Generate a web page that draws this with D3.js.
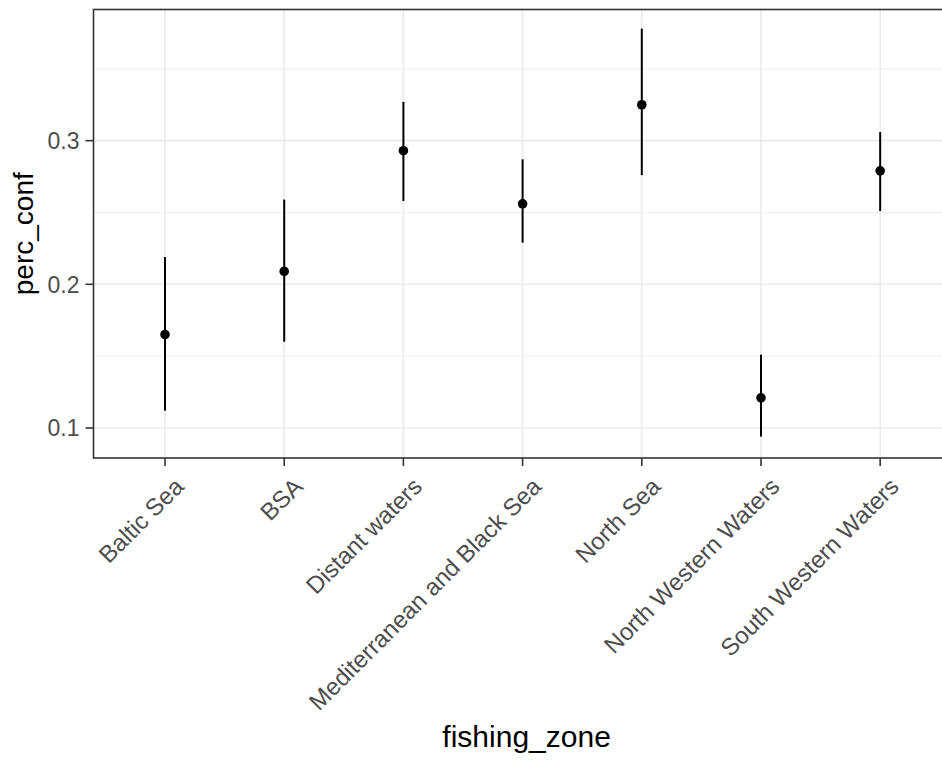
<!DOCTYPE html>
<html>
<head>
<meta charset="utf-8">
<script src="https://cdn.jsdelivr.net/npm/d3@7"></script>
<style>
  body { margin: 0; background: #fff; }
  svg { display: block; font-family: "Liberation Sans", Arial, sans-serif; }
</style>
</head>
<body>
<svg id="chart" width="942" height="760"></svg>
<script>
// fishing zones and the estimated share with its interval
const zones = ['Baltic Sea', 'BSA', 'Distant waters', 'Mediterranean and Black Sea',
  'North Sea', 'North Western Waters', 'South Western Waters'];
const perc_conf = [0.165, 0.209, 0.293, 0.256, 0.325, 0.121, 0.279];
const conf_low = [0.112, 0.160, 0.258, 0.229, 0.276, 0.094, 0.251];
const conf_high = [0.219, 0.259, 0.327, 0.287, 0.378, 0.151, 0.306];
const y_ticks = [0.1, 0.2, 0.3];
const y_minor = [0.15, 0.25, 0.35];

const svg = d3.select('#chart');
const p_left = 93.5, p_right = 951.7, p_top = 9.5, p_bottom = 458;

// discrete x scale, ggplot style padding of 0.6 step on each side
const xScale = d3.scalePoint().domain(zones).range([p_left, p_right]).padding(0.6);
const yScale = d3.scaleLinear().domain([0.0791, 0.3913]).range([p_bottom, p_top]);

// GRID
const grid = svg.append('g');
grid.selectAll('line.minor').data(y_minor).enter().append('line')
  .attr('x1', p_left).attr('x2', p_right)
  .attr('y1', d => yScale(d)).attr('y2', d => yScale(d))
  .attr('stroke', '#ebebeb').attr('stroke-width', 0.8);
grid.selectAll('line.majory').data(y_ticks).enter().append('line')
  .attr('x1', p_left).attr('x2', p_right)
  .attr('y1', d => yScale(d)).attr('y2', d => yScale(d))
  .attr('stroke', '#ebebeb').attr('stroke-width', 1.6);
grid.selectAll('line.majorx').data(zones).enter().append('line')
  .attr('y1', p_top).attr('y2', p_bottom)
  .attr('x1', d => xScale(d)).attr('x2', d => xScale(d))
  .attr('stroke', '#ebebeb').attr('stroke-width', 1.6);

// ERROR BARS AND POINTS
const marks = svg.append('g');
marks.selectAll('line.err').data(zones).enter().append('line')
  .attr('x1', d => xScale(d)).attr('x2', d => xScale(d))
  .attr('y1', (d, i) => yScale(conf_low[i]))
  .attr('y2', (d, i) => yScale(conf_high[i]))
  .attr('stroke', '#000').attr('stroke-width', 2);
marks.selectAll('circle').data(zones).enter().append('circle')
  .attr('cx', d => xScale(d))
  .attr('cy', (d, i) => yScale(perc_conf[i]))
  .attr('r', 4.8).attr('fill', '#000');

// PANEL BORDER
svg.append('rect').attr('x', p_left).attr('y', p_top)
  .attr('width', p_right - p_left).attr('height', p_bottom - p_top)
  .attr('fill', 'none').attr('stroke', '#333').attr('stroke-width', 1.6);

// Y AXIS
const yAxis = svg.append('g');
yAxis.selectAll('line').data(y_ticks).enter().append('line')
  .attr('x1', p_left - 8).attr('x2', p_left)
  .attr('y1', d => yScale(d)).attr('y2', d => yScale(d))
  .attr('stroke', '#333').attr('stroke-width', 1.6);
yAxis.selectAll('text').data(y_ticks).enter().append('text')
  .attr('x', p_left - 14).attr('y', d => yScale(d))
  .attr('dy', '0.36em').attr('text-anchor', 'end')
  .attr('font-size', 23).attr('fill', '#4d4d4d')
  .text(d => d3.format('.1f')(d));

// X AXIS
const xAxis = svg.append('g');
xAxis.selectAll('line').data(zones).enter().append('line')
  .attr('x1', d => xScale(d)).attr('x2', d => xScale(d))
  .attr('y1', p_bottom).attr('y2', p_bottom + 8)
  .attr('stroke', '#333').attr('stroke-width', 1.6);
xAxis.selectAll('text').data(zones).enter().append('text')
  .attr('text-anchor', 'end').attr('font-size', 24).attr('fill', '#4d4d4d')
  .attr('transform', d => `translate(${xScale(d) + 8},${p_bottom + 18}) rotate(-45)`)
  .attr('dy', '0.71em')
  .text(d => d);

// AXIS TITLES
svg.append('text').attr('x', (p_left + p_right) / 2 + 4).attr('y', 747)
  .attr('text-anchor', 'middle').attr('font-size', 30).attr('fill', '#000')
  .text('fishing_zone');
svg.append('text')
  .attr('transform', `translate(33,${(p_top + p_bottom) / 2}) rotate(-90)`)
  .attr('text-anchor', 'middle').attr('font-size', 28).attr('fill', '#000')
  .text('perc_conf');
</script>
</body>
</html>
